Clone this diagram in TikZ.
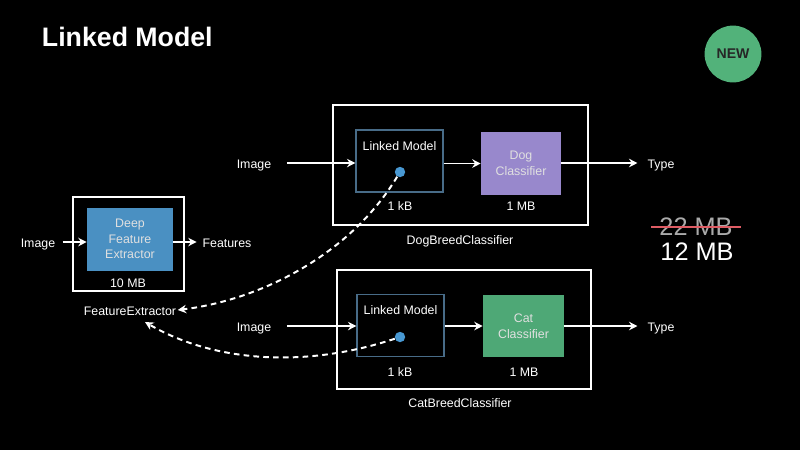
\documentclass[tikz,border=0pt]{standalone}
\usepackage{fontspec}
\setmainfont{Liberation Sans}
\usetikzlibrary{arrows.meta,positioning,calc}
\definecolor{extractblue}{RGB}{74,144,194}
\definecolor{dogpurple}{RGB}{152,136,204}
\definecolor{catgreen}{RGB}{78,168,118}
\definecolor{newgreen}{RGB}{82,178,122}
\definecolor{linkgray}{RGB}{72,108,136}
\definecolor{dotblue}{RGB}{72,152,210}
\definecolor{strikered}{RGB}{222,92,100}
\definecolor{oldgray}{RGB}{170,170,170}
\tikzset{
    % Define standard node styles
    outerbox/.style={
        rectangle, draw=white, line width=0.9pt, fill=black
    },
    linkbox/.style={
        rectangle, draw=linkgray, line width=0.8pt,
        minimum width=2.175cm, minimum height=1.55cm
    },
    modelbox/.style={
        rectangle, draw=none, text=white!88!black, inner sep=0pt,
        text width=2cm, align=center, font=\fontsize{8.8}{11}\selectfont,
        minimum height=1.575cm
    },
    label/.style={
        text=white, font=\fontsize{8.8}{11}\selectfont, inner sep=1pt,
        text height=1.6ex, text depth=0.1ex
    },
    linkdot/.style={
        circle, fill=dotblue, minimum size=0.26cm, inner sep=0pt
    },
    arrow/.style={
        -{Stealth[length=6pt,width=6pt]}, draw=white, line width=0.9pt
    },
    linkarrow/.style={
        -{Stealth[length=6pt,width=6pt]}, draw=white, line width=1.4pt,
        dash pattern=on 4pt off 3pt
    }
}
\begin{document}
\begin{tikzpicture}[x=0.025cm, y=-0.025cm]

\fill[black] (0,0) rectangle (800,450);
\useasboundingbox (0,0) rectangle (800,450);

% Title and badge
\node[text=white, font=\bfseries\fontsize{19}{22}\selectfont, anchor=west] (title) at (37,37) {Linked Model};
\node[circle, fill=newgreen, minimum size=1.42cm, text=black!85,
      font=\bfseries\fontsize{10}{12}\selectfont] (badge) at (733,54) {NEW};

% Feature extractor
\node[outerbox, minimum width=2.775cm, minimum height=2.35cm] (feBox) at (128.5,244) {};
\node[modelbox, fill=extractblue, text width=2.15cm] (feCore) at (130,239) {Deep\\Feature\\Extractor};
\node[label] (feSize) at (128,282) {10 MB};
\node[label] (feIn) at (38,242) {Image};
\node[label] (feOut) at (227,242) {Features};
\node[label] (feName) at (130,310) {FeatureExtractor};

% Dog breed classifier
\node[outerbox, minimum width=6.375cm, minimum height=3cm] (dogBox) at (460.5,165) {};
\node[linkbox] (dogLink) at (399.5,161) {};
\node[label, below=5pt of dogLink.north] (dogLinkText) {Linked Model};
\node[linkdot] (dogDot) at (400,172) {};
\node[modelbox, fill=dogpurple] (dogCls) at (521,163.5) {Dog\\Classifier};
\node[label] (dogLinkSize) at (400,205) {1 kB};
\node[label] (dogClsSize) at (521,205) {1 MB};
\node[label] (dogName) at (460,239) {DogBreedClassifier};
\node[label] (dogIn) at (254,163) {Image};
\node[label] (dogOut) at (661,163) {Type};

% Cat breed classifier
\node[outerbox, minimum width=6.35cm, minimum height=2.975cm] (catBox) at (464,329.5) {};
\node[linkbox] (catLink) at (400.5,325.5) {};
\node[label, below=5pt of catLink.north] (catLinkText) {Linked Model};
\node[linkdot] (catDot) at (400,337) {};
\node[modelbox, fill=catgreen, text width=2.025cm, minimum height=1.55cm] (catCls) at (523.5,326) {Cat\\Classifier};
\node[label] (catLinkSize) at (400,371) {1 kB};
\node[label] (catClsSize) at (524,371) {1 MB};
\node[label] (catName) at (460,402) {CatBreedClassifier};
\node[label] (catIn) at (254,326) {Image};
\node[label] (catOut) at (661,326) {Type};

% Sizes
\node[text=oldgray, font=\fontsize{18}{21}\selectfont] (oldSize) at (696,227) {22 MB};
\node[text=white, font=\fontsize{18}{21}\selectfont] (newSize) at (697,252) {12 MB};
\draw[strikered, line width=1.6pt] ($(oldSize.west)+(-3,0)$) -- ($(oldSize.east)+(3,0)$);

% Arrows
\draw[arrow, shorten <=4pt] (feIn.east) -- (feIn.east -| feCore.west);
\draw[arrow, shorten >=3pt] (feCore.east |- feOut) -- (feOut.west);
\draw[arrow, shorten <=10pt] (dogIn.east) -- (dogIn.east -| dogLink.west);
\draw[arrow] (dogLink.east |- dogCls) -- (dogCls);
\draw[arrow, shorten >=6pt] (dogCls.east |- dogOut) -- (dogOut.west);
\draw[arrow, shorten <=10pt] (catIn.east) -- (catIn.east -| catLink.west);
\draw[arrow] (catLink.east |- catCls) -- (catCls);
\draw[arrow, shorten >=6pt] (catCls.east |- catOut) -- (catOut.west);

% Links back to the extractor
\draw[linkarrow] (dogDot) .. controls (350,255) and (260,300) .. (feName.east);
\draw[linkarrow] (catDot) .. controls (300,370) and (210,360) .. ($(feName.south)+(15,4)$);

\end{tikzpicture}
\end{document}
